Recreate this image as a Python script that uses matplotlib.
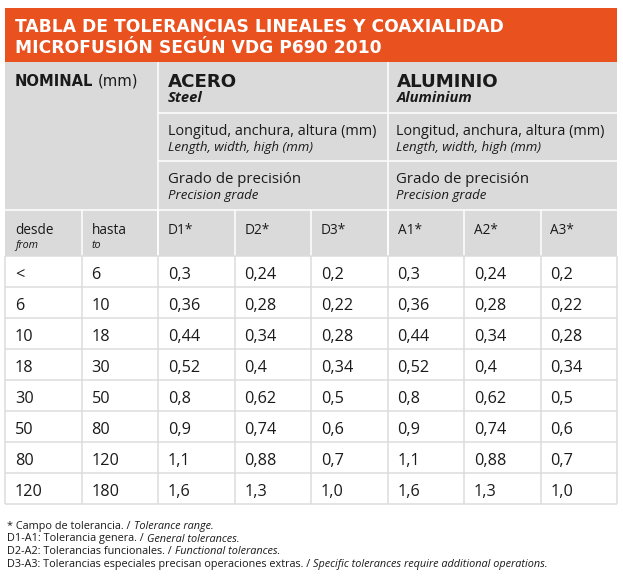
import matplotlib
matplotlib.use("Agg")
import matplotlib.pyplot as plt
from matplotlib.patches import Rectangle

# ---------------- data ----------------
title_lines = ["TABLA DE TOLERANCIAS LINEALES Y COAXIALIDAD",
               "MICROFUSIÓN SEGÚN VDG P690 2010"]
desde = ["<", "6", "10", "18", "30", "50", "80", "120"]
hasta = ["6", "10", "18", "30", "50", "80", "120", "180"]
D1 = ["0,3", "0,36", "0,44", "0,52", "0,8", "0,9", "1,1", "1,6"]
D2 = ["0,24", "0,28", "0,34", "0,4", "0,62", "0,74", "0,88", "1,3"]
D3 = ["0,2", "0,22", "0,28", "0,34", "0,5", "0,6", "0,7", "1,0"]
A1 = ["0,3", "0,36", "0,44", "0,52", "0,8", "0,9", "1,1", "1,6"]
A2 = ["0,24", "0,28", "0,34", "0,4", "0,62", "0,74", "0,88", "1,3"]
A3 = ["0,2", "0,22", "0,28", "0,34", "0,5", "0,6", "0,7", "1,0"]
grade_labels = ["D1*", "D2*", "D3*", "A1*", "A2*", "A3*"]
materials = [("ACERO", "Steel"), ("ALUMINIO", "Aluminium")]
dim_label = ("Longitud, anchura, altura (mm)", "Length, width, high (mm)")
grade_label = ("Grado de precisión", "Precision grade")
footnotes = [("* Campo de tolerancia. /", "Tolerance range."),
             ("D1-A1: Tolerancia genera. /", "General tolerances."),
             ("D2-A2: Tolerancias funcionales. /", "Functional tolerances."),
             ("D3-A3: Tolerancias especiales precisan operaciones extras. /",
              "Specific tolerances require additional operations.")]

# ---------------- layout ----------------
W, H = 623, 581
FONT = "Open Sans"
TFONT = "DejaVu Sans"
ORANGE = "#E9511F"
GREY = "#DADADA"
GRID = "#DCDCDC"
TXT = "#1a1a1a"

fig = plt.figure(figsize=(W / 100, H / 100), dpi=100)
ax = fig.add_axes([0, 0, 1, 1])
ax.set_xlim(0, W)
ax.set_ylim(H, 0)
ax.axis("off")
renderer = fig.canvas.get_renderer()

X0, X1 = 5, 617
ncol = 8
cw = (X1 - X0) / ncol
col_left = [X0 + i * cw for i in range(ncol + 1)]
T0, T1 = 8, 62
hrows = [62, 113, 161, 209.5, 256]
RH = 31
nrows = len(desde)
data_rows = [256 + i * RH for i in range(nrows + 1)]

# backgrounds
ax.add_patch(Rectangle((X0, T0), X1 - X0, T1 - T0, color=ORANGE, lw=0))
ax.add_patch(Rectangle((X0, hrows[0]), X1 - X0, hrows[-1] - hrows[0], color=GREY, lw=0))

LW = 1.1
def hline(y, xa, xb, c):
    ax.plot([xa, xb], [y, y], color=c, lw=LW, solid_capstyle="butt")
def vline(x, ya, yb, c):
    ax.plot([x, x], [ya, yb], color=c, lw=LW, solid_capstyle="butt")

# header white lines
hline(hrows[1], col_left[2], X1, "white")
hline(hrows[2], col_left[2], X1, "white")
hline(hrows[3], X0, X1, "white")
vline(col_left[2], hrows[0], hrows[4], "white")
vline(col_left[5], hrows[0], hrows[4], "white")
for i in range(1, ncol):
    vline(col_left[i], hrows[3], hrows[4], "white")

# data grid
for y in data_rows:
    hline(y, X0, X1, GRID)
for x in col_left:
    vline(x, data_rows[0], data_rows[-1], GRID)


def px(pt):
    return pt * 100 / 72


def draw_parts(x, y, parts, size, target=None, color=TXT, family=FONT):
    """parts: list of (text, weight, style). Draw consecutively with spaces between."""
    texts = [ax.text(x, y, s, fontsize=size, fontweight=w, fontstyle=st,
                     family=family, color=color, va="baseline", ha="left")
             for s, w, st in parts]

    def layout():
        cx = x
        for i, t in enumerate(texts):
            t.set_x(cx)
            cx += t.get_window_extent(renderer).width
            if i < len(texts) - 1:
                cx += 0.28 * px(t.get_fontsize())
        return cx - x

    total = layout()
    if target:
        k = target / total
        for t in texts:
            t.set_fontsize(t.get_fontsize() * k)
        layout()
    return texts[0].get_fontsize()


# title
ts = draw_parts(15, 32.3, [(title_lines[0], "bold", "normal")], 12, target=487,
                color="white", family=TFONT)
draw_parts(15, 53.3, [(title_lines[1], "bold", "normal")], ts, color="white", family=TFONT)

# header row 1
draw_parts(15, 85.7, [("NOMINAL", "bold", "normal"), ("(mm)", "normal", "normal")], 10,
           target=123, family=TFONT)
msz = draw_parts(col_left[5] + 9, 87.3, [(materials[1][0], "bold", "normal")], 12,
                 target=102, family=TFONT)
draw_parts(col_left[2] + 10, 87.3, [(materials[0][0], "bold", "normal")], msz, family=TFONT)
ssz = draw_parts(col_left[5] + 9, 101.7, [(materials[1][1], "bold", "italic")], 8, target=76)
draw_parts(col_left[2] + 10, 101.7, [(materials[0][1], "bold", "italic")], ssz)

# header rows 2-3
for base in (col_left[2] + 10, col_left[5] + 9):
    draw_parts(base, 135, [(dim_label[0], "normal", "normal")], 10, target=208)
    draw_parts(base, 150.7, [(dim_label[1], "normal", "italic")], 8, target=144)
    draw_parts(base, 183.3, [(grade_label[0], "normal", "normal")], 10, target=133)
    draw_parts(base, 199.3, [(grade_label[1], "normal", "italic")], 8, target=90)

# header row 4
hs = draw_parts(col_left[1] + 10, 233.5, [("hasta", "normal", "normal")], 10, target=35)
fs = draw_parts(15, 248, [("from", "normal", "italic")], 8, target=23)
draw_parts(15, 233.5, [("desde", "normal", "normal")], hs)
draw_parts(col_left[1] + 10, 248, [("to", "normal", "italic")], fs)
for j, g in enumerate(grade_labels):
    draw_parts(col_left[2 + j] + 10, 233.5, [(g, "normal", "normal")], hs)

# data cells
probe = ax.text(0, 0, "0,36", fontsize=10, family=FONT)
w = probe.get_window_extent(renderer).width
probe.remove()
vs = 10 * 32 / w
columns = [desde, hasta, D1, D2, D3, A1, A2, A3]
for j, colvals in enumerate(columns):
    for i, v in enumerate(colvals):
        ax.text(col_left[j] + 10, data_rows[i] + 23, v, fontsize=vs, family=FONT,
                color=TXT, va="baseline", ha="left")

# footnotes
fn_base = [529, 541.5, 554, 566.5]
fsz = draw_parts(7, fn_base[3], [(footnotes[3][0], "normal", "normal"),
                                 (footnotes[3][1], "normal", "italic")], 7, target=545)
for k in range(3):
    draw_parts(7, fn_base[k], [(footnotes[k][0], "normal", "normal"),
                               (footnotes[k][1], "normal", "italic")], fsz)

fig.savefig("out.png", dpi=100)
